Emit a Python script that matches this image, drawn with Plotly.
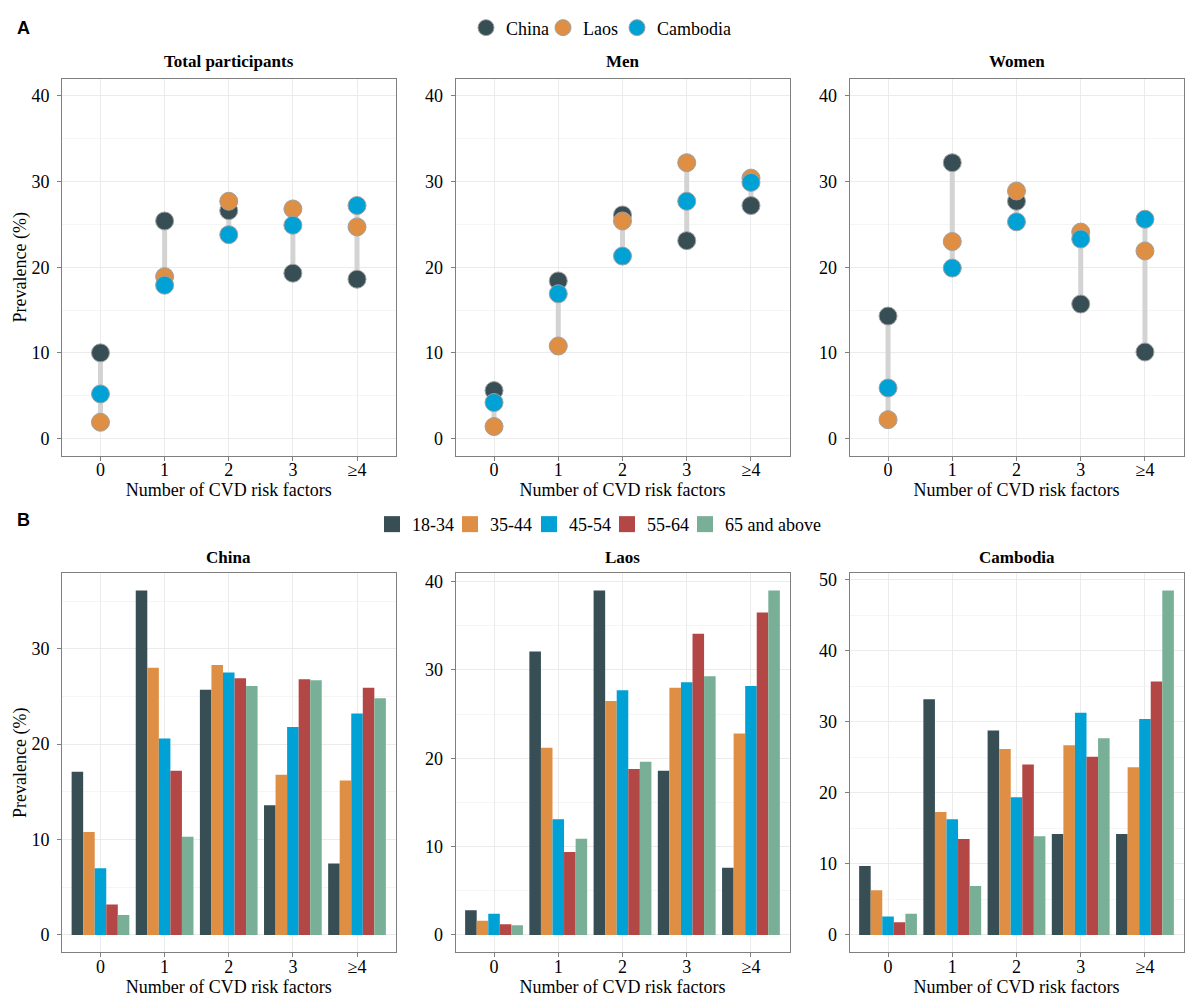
import plotly.graph_objects as go

# ---------------- data ----------------
categories = ["0", "1", "2", "3", "≥4"]
countries = ["China", "Laos", "Cambodia"]
country_colors = ["#374E55", "#DF8F44", "#00A1D5"]

# Panel A: prevalence (%) by number of CVD risk factors
total_china = [10.0, 25.4, 26.6, 19.3, 18.6]
total_laos = [1.9, 18.9, 27.7, 26.8, 24.7]
total_cambodia = [5.2, 17.9, 23.8, 24.9, 27.2]

men_china = [5.6, 18.4, 26.1, 23.1, 27.2]
men_laos = [1.4, 10.8, 25.4, 32.2, 30.4]
men_cambodia = [4.2, 16.9, 21.3, 27.7, 29.9]

women_china = [14.3, 32.2, 27.7, 15.7, 10.1]
women_laos = [2.2, 23.0, 28.9, 24.1, 21.9]
women_cambodia = [5.9, 19.9, 25.3, 23.3, 25.6]

# Panel B: prevalence (%) by age group
age_groups = ["18-34", "35-44", "45-54", "55-64", "65 and above"]
age_colors = ["#374E55", "#DF8F44", "#00A1D5", "#B24745", "#79AF97"]

china_18_34 = [17.1, 36.1, 25.7, 13.6, 7.5]
china_35_44 = [10.8, 28.0, 28.3, 16.8, 16.2]
china_45_54 = [7.0, 20.6, 27.5, 21.8, 23.2]
china_55_64 = [3.2, 17.2, 26.9, 26.8, 25.9]
china_65_plus = [2.1, 10.3, 26.1, 26.7, 24.8]

laos_18_34 = [2.8, 32.1, 39.0, 18.6, 7.6]
laos_35_44 = [1.6, 21.2, 26.5, 28.0, 22.8]
laos_45_54 = [2.4, 13.1, 27.7, 28.6, 28.2]
laos_55_64 = [1.2, 9.4, 18.8, 34.1, 36.5]
laos_65_plus = [1.1, 10.9, 19.6, 29.3, 39.0]

cambodia_18_34 = [9.7, 33.2, 28.8, 14.2, 14.2]
cambodia_35_44 = [6.3, 17.3, 26.2, 26.7, 23.6]
cambodia_45_54 = [2.6, 16.3, 19.4, 31.3, 30.4]
cambodia_55_64 = [1.8, 13.5, 24.0, 25.1, 35.7]
cambodia_65_plus = [3.0, 6.9, 13.9, 27.7, 48.5]

top_panels = [
    ("Total participants", [total_china, total_laos, total_cambodia]),
    ("Men", [men_china, men_laos, men_cambodia]),
    ("Women", [women_china, women_laos, women_cambodia]),
]
bottom_panels = [
    ("China", [china_18_34, china_35_44, china_45_54, china_55_64, china_65_plus]),
    ("Laos", [laos_18_34, laos_35_44, laos_45_54, laos_55_64, laos_65_plus]),
    ("Cambodia", [cambodia_18_34, cambodia_35_44, cambodia_45_54, cambodia_55_64, cambodia_65_plus]),
]

# ---------------- layout geometry ----------------
W, H = 1200, 1008
x_domains_px = [(62, 395.5), (455.5, 789.5), (849.5, 1183.5)]
top_y_px = (76, 454)
bot_y_px = (572, 952)
country_legend_px = [488, 565, 639]          # symbol centres of top legend entries
age_legend_px = [394, 472, 551, 629, 707]    # symbol centres of bottom legend entries

def px_x(a, b):
    return [a / W, b / W]

def px_y(top, bottom):
    return [1 - bottom / H, 1 - top / H]

FONT = "Liberation Serif"
BORDER = "#7F7F7F"
GRID = "#EBEBEB"
MINOR = "#F5F5F5"

fig = go.Figure()
layout = dict(
    width=W, height=H,
    margin=dict(l=0, r=0, t=0, b=0),
    paper_bgcolor="white", plot_bgcolor="white",
    font=dict(family=FONT, size=18, color="black"),
    barmode="group", bargap=0.1, bargroupgap=0,
    annotations=[],
)

def axis_common():
    return dict(
        showline=True, linecolor=BORDER, linewidth=1, mirror=True,
        ticks="outside", ticklen=4, tickcolor=BORDER, tickwidth=1,
        showgrid=True, gridcolor=GRID, gridwidth=1, zeroline=False,
        tickfont=dict(family=FONT, size=18, color="black"),
    )

def x_axis(domain, anchor):
    return dict(axis_common(), domain=domain, anchor=anchor, type="category",
                categoryorder="array", categoryarray=categories,
                range=[-0.6, 4.6], ticklabelstandoff=-6,
                title=dict(text="Number of CVD risk factors", standoff=0,
                           font=dict(family=FONT, size=18)))

def legend_box(cx, cy):
    return dict(orientation="h", x=(cx - 22) / W, xanchor="left", y=1 - cy / H,
                yanchor="middle", font=dict(family=FONT, size=18),
                itemsizing="trace", bgcolor="rgba(0,0,0,0)")

country_legends = ["legend", "legend7", "legend8"]
age_legends = ["legend2", "legend3", "legend4", "legend5", "legend6"]

# ---------------- Panel A ----------------
for i, (title, series) in enumerate(top_panels):
    n = i + 1
    xa = "x" if n == 1 else f"x{n}"
    ya = "y" if n == 1 else f"y{n}"
    # grey range segments
    seg_x, seg_y = [], []
    for k, cat in enumerate(categories):
        vals = [s[k] for s in series]
        seg_x += [cat, cat, None]
        seg_y += [min(vals), max(vals), None]
    fig.add_trace(go.Scatter(x=seg_x, y=seg_y, mode="lines",
                             line=dict(color="#D3D3D3", width=5),
                             showlegend=False, hoverinfo="skip",
                             xaxis=xa, yaxis=ya))
    for c, (name, vals) in enumerate(zip(countries, series)):
        fig.add_trace(go.Scatter(
            x=categories, y=vals, mode="markers", name=name,
            marker=dict(size=18, color=country_colors[c],
                        line=dict(color="#A0A0A0", width=1)),
            showlegend=(i == 0), legend=country_legends[c],
            xaxis=xa, yaxis=ya))
    xd = px_x(*x_domains_px[i])
    xk = "xaxis" if n == 1 else f"xaxis{n}"
    yk = "yaxis" if n == 1 else f"yaxis{n}"
    layout[xk] = x_axis(xd, ya)
    layout[yk] = dict(axis_common(), domain=px_y(*top_y_px), anchor=xa,
                      range=[-2, 42], tickvals=[0, 10, 20, 30, 40],
                      ticklabelstandoff=4,
                      minor=dict(dtick=5, tick0=0, showgrid=True, gridcolor=MINOR, ticks=""))
    if i == 0:
        layout[yk]["title"] = dict(text="Prevalence (%)", standoff=0,
                                   font=dict(family=FONT, size=18))
    layout["annotations"].append(dict(
        text=f"<b>{title}</b>", x=sum(xd) / 2, y=1 - 59 / H, xref="paper", yref="paper",
        xanchor="center", yanchor="middle", showarrow=False,
        font=dict(family=FONT, size=17, color="black")))

# ---------------- Panel B ----------------
for i, (title, series) in enumerate(bottom_panels):
    n = i + 4
    xa, ya = f"x{n}", f"y{n}"
    for g, (name, vals) in enumerate(zip(age_groups, series)):
        fig.add_trace(go.Bar(
            x=categories, y=vals, name=name, offsetgroup=str(g),
            marker=dict(color=age_colors[g], line=dict(width=0)),
            showlegend=False, xaxis=xa, yaxis=ya))
    ymax = max(max(s) for s in series)
    xd = px_x(*x_domains_px[i])
    layout[f"xaxis{n}"] = x_axis(xd, ya)
    layout[f"yaxis{n}"] = dict(axis_common(), domain=px_y(*bot_y_px), anchor=xa,
                               range=[-0.05 * ymax, 1.05 * ymax], dtick=10, tick0=0,
                               ticklabelstandoff=4,
                               minor=dict(dtick=5, tick0=0, showgrid=True, gridcolor=MINOR, ticks=""))
    if i == 0:
        layout[f"yaxis{n}"]["title"] = dict(text="Prevalence (%)", standoff=0,
                                            font=dict(family=FONT, size=18))
    layout["annotations"].append(dict(
        text=f"<b>{title}</b>", x=sum(xd) / 2, y=1 - 556 / H, xref="paper", yref="paper",
        xanchor="center", yanchor="middle", showarrow=False,
        font=dict(family=FONT, size=17, color="black")))

# legend entries for age groups
for g, name in enumerate(age_groups):
    fig.add_trace(go.Scatter(
        x=[None], y=[None], mode="markers", name=name,
        marker=dict(symbol="square", size=20, color=age_colors[g]),
        showlegend=True, legend=age_legends[g],
        xaxis="x4", yaxis="y4", hoverinfo="skip"))

for c, lg in enumerate(country_legends):
    layout[lg] = legend_box(country_legend_px[c], 25)
for g, lg in enumerate(age_legends):
    layout[lg] = legend_box(age_legend_px[g], 523)

for letter, ypx in (("A", 25), ("B", 519)):
    layout["annotations"].append(dict(
        text=f"<b>{letter}</b>", x=15 / W, y=1 - ypx / H, xref="paper", yref="paper",
        xanchor="left", yanchor="middle", showarrow=False,
        font=dict(family="Liberation Sans", size=18, color="black")))

fig.update_layout(**layout)
fig.write_html("out.html")
